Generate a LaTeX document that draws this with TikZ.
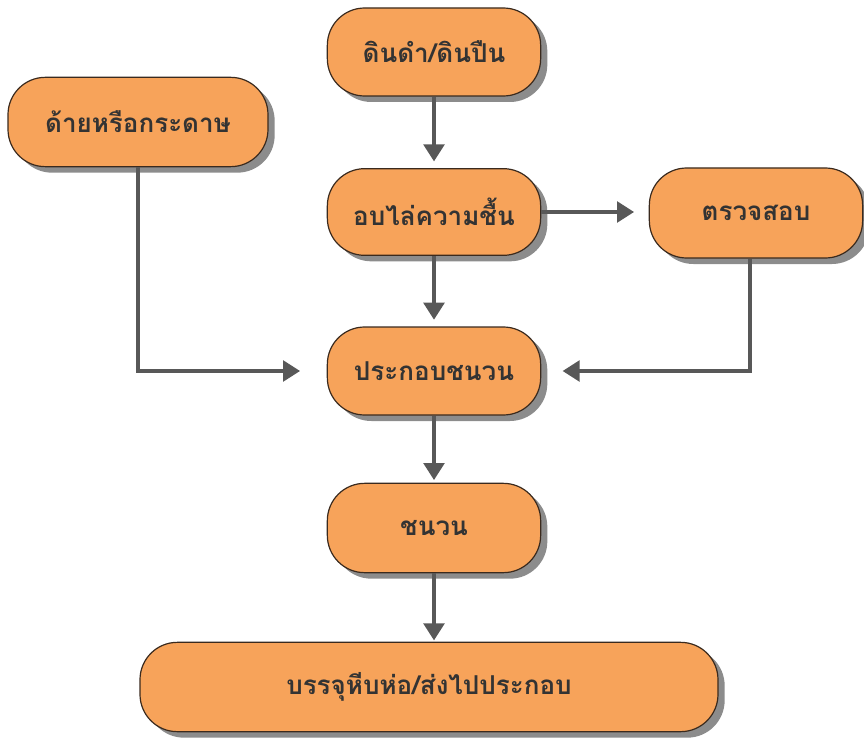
\documentclass[tikz,border=0pt]{standalone}
\usepackage{fontspec}
\newfontfamily\thaifont[Script=Thai]{Loma}
\usetikzlibrary{arrows.meta,shadows}
\definecolor{boxfill}{HTML}{F7A35A}
\definecolor{boxline}{HTML}{3A2A1E}
\definecolor{arrgray}{HTML}{585858}
\definecolor{shadowgray}{HTML}{8C8C8C}
\definecolor{txt}{HTML}{333333}
\tikzset{
  stepbox/.style={draw=boxline, line width=0.9pt, fill=boxfill, rounded corners=28pt,
    minimum width=160pt, minimum height=66pt, inner sep=0pt,
    font=\thaifont\bfseries\fontsize{19.5}{24}\selectfont, text=txt,
    drop shadow={shadow xshift=5pt, shadow yshift=-4.5pt, fill=shadowgray, opacity=1}},
  arr/.style={draw=arrgray, line width=2.6pt,
    -{Triangle[length=12.75pt,width=15.5pt,fill=arrgray]}}
}
\begin{document}
\begin{tikzpicture}[x=0.75pt,y=-0.75pt]
\useasboundingbox (0,0) rectangle (864,738);
\node[stepbox] (dindam) at (434,52) {ดินดำ/ดินปืน};
\node[stepbox, minimum width=195pt, minimum height=67pt] (dai) at (138,122) {ด้ายหรือกระดาษ};
\node[stepbox, minimum height=65pt] (ob) at (434,212) {อบไล่ความชื้น};
\node[stepbox, minimum height=67.5pt] (truat) at (756,213) {ตรวจสอบ};
\node[stepbox] (prakob) at (434,371) {ประกอบชนวน};
\node[stepbox, minimum height=67pt] (chanuan) at (434,528) {ชนวน};
\node[stepbox, minimum width=433.5pt, minimum height=67pt] (bottom) at (429,687) {บรรจุหีบห่อ/ส่งไปประกอบ};

\draw[arr, shorten >=5pt] (dindam.south) -- (ob.north);
\draw[arr, shorten >=5pt] (ob.south) -- (prakob.north);
\draw[arr, shorten >=2pt] (prakob.south) -- (chanuan.north);
\draw[arr, shorten >=1pt] (chanuan.south) -- (chanuan.south |- bottom.north);
\draw[arr, shorten >=11pt] (ob.east) -- (ob.east -| truat.west);
\draw[arr, shorten >=20pt] (dai.south) |- (prakob.west);
\draw[arr, shorten >=16pt] ([xshift=-4.5pt]truat.south) |- (prakob.east);
\end{tikzpicture}
\end{document}
